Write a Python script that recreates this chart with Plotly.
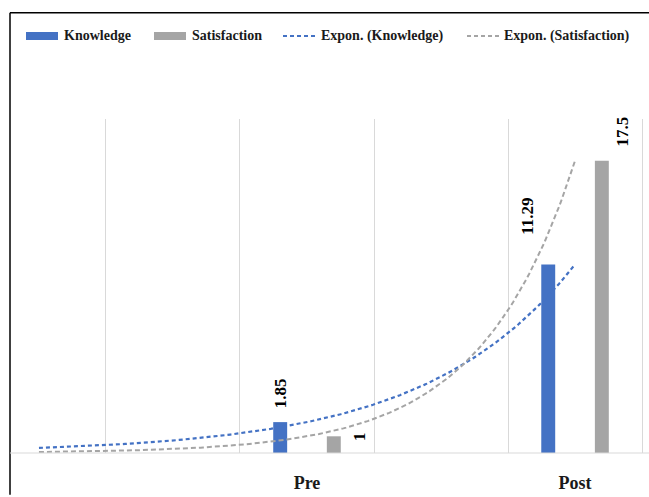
import numpy as np
import plotly.graph_objects as go

# ---- data ----
categories = ["Pre", "Post"]
cat_pos = [1, 3]                 # category centres on the numeric x axis
knowledge = [1.85, 11.29]
satisfaction = [1.0, 17.5]
series_names = ["Knowledge", "Satisfaction"]
trend_names = ["Expon. (Knowledge)", "Expon. (Satisfaction)"]
backward_periods = 2             # trendline forecast backward, in x units

# ---- style ----
BLUE = "#4472C4"
GRAY = "#A5A5A5"
GRID = "#D9D9D9"
FONT = "Liberation Serif"
W, H = 649, 497
ML, MR, MT, MB = 10, 4, 119, 42
PW, PH = W - ML - MR, H - MT - MB
X_RANGE = [-1.216, 3.522]
Y_RANGE = [0, 20]


def px_x(px):
    return (px - ML) / PW


def px_y(py):
    return (H - MB - py) / PH


fig = go.Figure()

# bars
for name, vals, col in [(series_names[0], knowledge, BLUE), (series_names[1], satisfaction, GRAY)]:
    fig.add_trace(go.Bar(x=cat_pos, y=vals, name=name, marker=dict(color=col, line=dict(width=0)),
                         showlegend=False))

# exponential trendlines (least squares on log values), forecast backward
xs = np.array(cat_pos, dtype=float)
for vals, col, dash, wdt in [(knowledge, BLUE, "4px,3px", 2.2), (satisfaction, GRAY, "5px,3px", 2.0)]:
    b, ln_a = np.polyfit(xs, np.log(vals), 1)
    xt = np.linspace(xs[0] - backward_periods, xs[-1], 200)
    fig.add_trace(go.Scatter(x=xt, y=np.exp(ln_a + b * xt), mode="lines",
                             line=dict(color=col, width=wdt, dash=dash),
                             hoverinfo="skip", showlegend=False))

# data labels (rotated), placed beside each bar
bar_offset = 0.2
label_shift = [  # (xshift px, yshift px) per bar: K-Pre, S-Pre, K-Post, S-Post
    (0, 29), (25, 0), (-21, 48), (21, 29)
]
bars = []
for i, p in enumerate(cat_pos):
    bars.append((p - bar_offset, knowledge[i]))
    bars.append((p + bar_offset, satisfaction[i]))
for (bx, v), (dx, dy) in zip(bars, label_shift):
    fig.add_annotation(x=bx, y=v, xref="x", yref="y", text=f"{v:g}", showarrow=False,
                       textangle=-90, xanchor="center", yanchor="middle",
                       xshift=dx, yshift=dy,
                       font=dict(family=FONT, size=17, color="#000000", weight="bold"))

shapes = []
# chart border (left and top edges)
shapes.append(dict(type="line", xref="paper", yref="paper", x0=px_x(10), x1=px_x(10),
                   y0=px_y(12), y1=px_y(H), line=dict(color="#000000", width=1.5)))
shapes.append(dict(type="line", xref="paper", yref="paper", x0=px_x(10), x1=px_x(W),
                   y0=px_y(12), y1=px_y(12), line=dict(color="#000000", width=1.5)))
# category axis baseline
shapes.append(dict(type="line", xref="paper", yref="paper", x0=px_x(10), x1=px_x(W),
                   y0=0, y1=0, line=dict(color=GRID, width=1)))

# legend
leg_y = 35.5
legend_items = [
    ("rect", BLUE, None, 26, 58, 62, series_names[0]),
    ("rect", GRAY, None, 154, 186, 190, series_names[1]),
    ("line", BLUE, "4px,3px", 283, 317, 319, trend_names[0]),
    ("line", GRAY, "4px,3px", 467, 500, 502, trend_names[1]),
]
for kind, col, dash, x0, x1, tx, label in legend_items:
    if kind == "rect":
        shapes.append(dict(type="rect", xref="paper", yref="paper", x0=px_x(x0), x1=px_x(x1),
                           y0=px_y(leg_y - 4), y1=px_y(leg_y + 4), fillcolor=col,
                           line=dict(width=0)))
    else:
        shapes.append(dict(type="line", xref="paper", yref="paper", x0=px_x(x0), x1=px_x(x1),
                           y0=px_y(leg_y), y1=px_y(leg_y), line=dict(color=col, width=2, dash=dash)))
    fig.add_annotation(x=px_x(tx), y=px_y(leg_y), xref="paper", yref="paper", text=label,
                       showarrow=False, xanchor="left", yanchor="middle",
                       font=dict(family=FONT, size=14, color="#1a1a1a", weight="bold"))

fig.update_layout(
    width=W, height=H,
    margin=dict(l=ML, r=MR, t=MT, b=MB),
    paper_bgcolor="white", plot_bgcolor="white",
    barmode="group", bargap=0.6, bargroupgap=0.74,
    shapes=shapes,
    xaxis=dict(range=X_RANGE, tickmode="array", tickvals=cat_pos, ticktext=categories,
               showgrid=False, zeroline=False, showline=False,
               ticks="outside", ticklen=13, tickcolor="rgba(0,0,0,0)",
               tickfont=dict(family=FONT, size=18, color="#1a1a1a", weight="bold"),
               minor=dict(tickmode="linear", tick0=-0.5, dtick=1, showgrid=True,
                          gridcolor=GRID, gridwidth=1)),
    yaxis=dict(range=Y_RANGE, showgrid=False, zeroline=False, showline=False,
               showticklabels=False, ticks=""),
)

fig.write_html("out.html")
